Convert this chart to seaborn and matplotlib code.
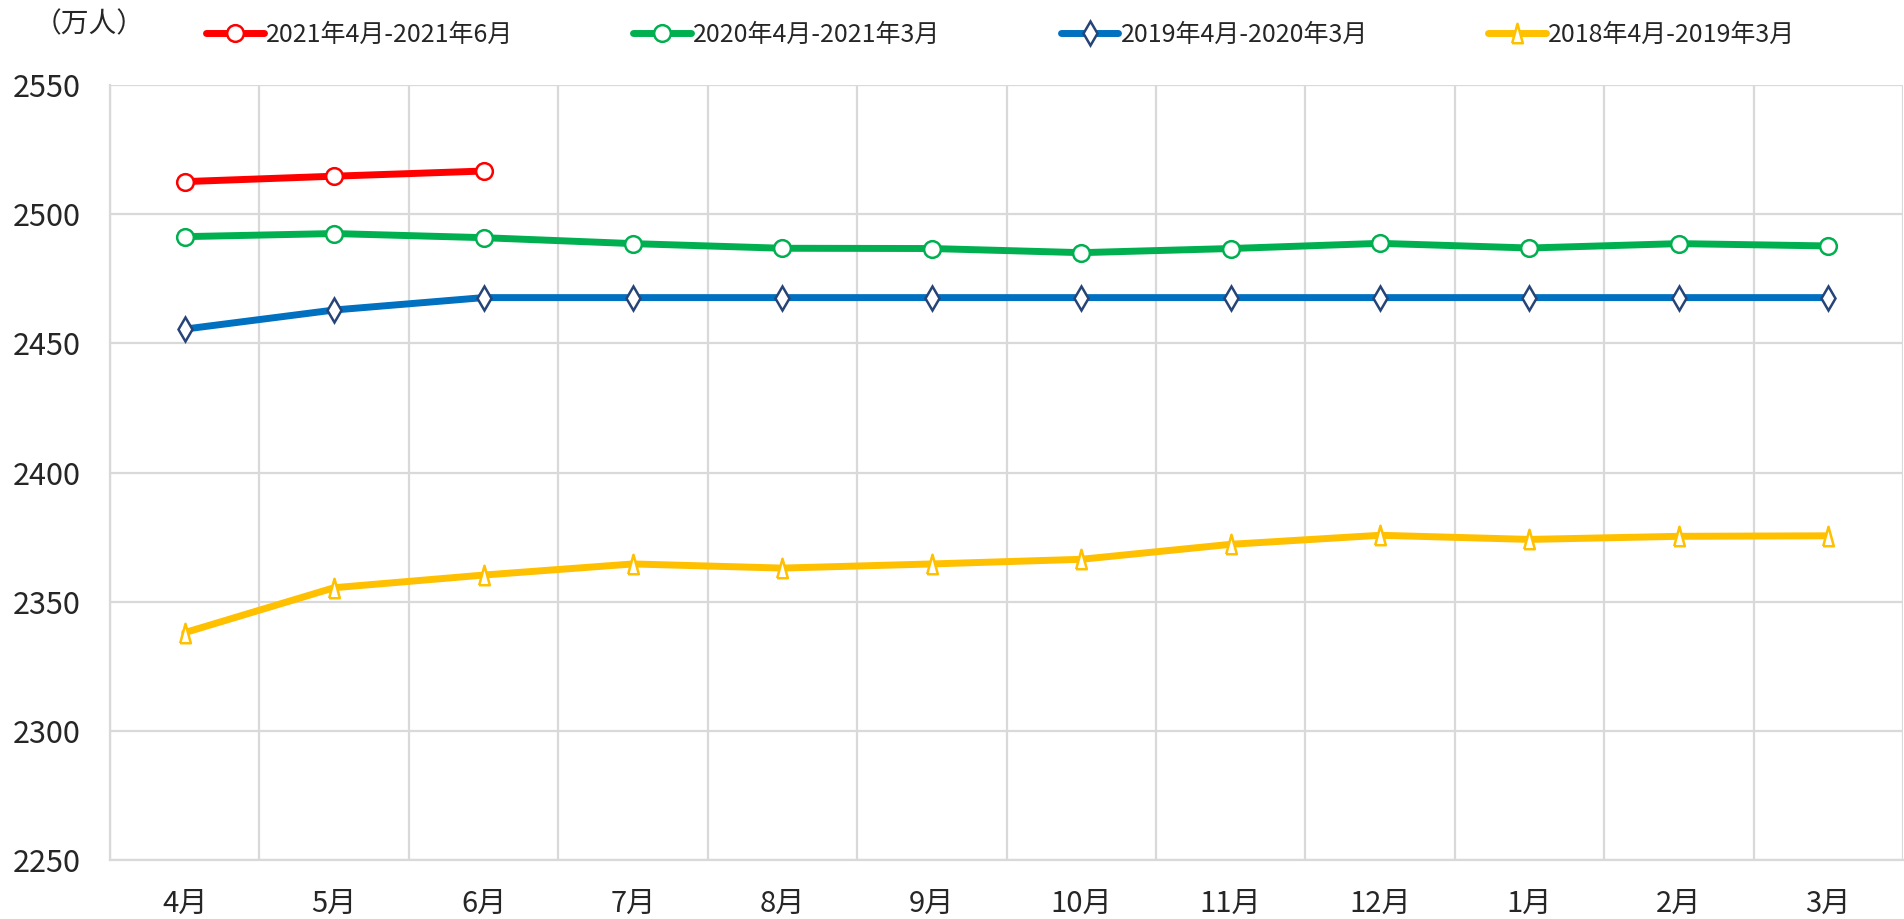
import numpy as np
import matplotlib
matplotlib.use("Agg")
import matplotlib.pyplot as plt
import seaborn as sns

# Données (万人)
months = ["4月", "5月", "6月", "7月", "8月", "9月", "10月", "11月", "12月", "1月", "2月", "3月"]
series_labels = ["2021年4月-2021年6月", "2020年4月-2021年3月", "2019年4月-2020年3月", "2018年4月-2019年3月"]
s2021 = [2512.6, 2514.7, 2516.7]
s2020 = [2491.3, 2492.5, 2490.9, 2488.6, 2486.8, 2486.7, 2485.1, 2486.7, 2488.7, 2486.9, 2488.6, 2487.7]
s2019 = [2455.5, 2462.9, 2467.7, 2467.7, 2467.7, 2467.7, 2467.7, 2467.7, 2467.7, 2467.7, 2467.7, 2467.7]
s2018 = [2338.0, 2355.4, 2360.3, 2364.6, 2363.0, 2364.6, 2366.4, 2372.2, 2375.7, 2374.1, 2375.3, 2375.5]
y_ticks = [2250, 2300, 2350, 2400, 2450, 2500, 2550]

sns.set_theme(style="white")
plt.rcParams['font.family'] = ['Noto Sans CJK SC', 'DejaVu Sans']

fig = plt.figure(figsize=(19.04, 9.19), dpi=100)
ax = fig.add_axes([110 / 1904, 1 - 860 / 919, 1793 / 1904, 775 / 919])

# triangle étroit
tri = [(-0.55, -1.0), (0.55, -1.0), (0.0, 1.0), (-0.55, -1.0)]

styles = [
    dict(color="#FF0000", marker="o", mec="#FF0000", ms=12),
    dict(color="#00B050", marker="o", mec="#00B050", ms=12),
    dict(color="#0070C0", marker="d", mec="#264478", ms=12),
    dict(color="#FFC000", marker=tri, mec="#FFC000", ms=14),
]
data = [s2021, s2020, s2019, s2018]

for vals, lab, st in zip(data, series_labels, styles):
    x = np.arange(len(vals))
    sns.lineplot(x=x, y=vals, ax=ax, color=st["color"], linewidth=5,
                 marker=st["marker"], markersize=st["ms"], markerfacecolor="white",
                 markeredgecolor=st["mec"], markeredgewidth=1.8, label=lab)

ax.set_xlim(-0.5, len(months) - 0.5)
ax.set_ylim(2250, 2550)
ax.set_yticks(y_ticks)
ax.set_xticks(np.arange(len(months)))
ax.set_xticklabels(months)
ax.set_xticks(np.arange(-0.5, len(months)), minor=True)
ax.grid(False)
ax.grid(axis="y", which="major", color="#D9D9D9", linewidth=1.6)
ax.grid(axis="x", which="minor", color="#D9D9D9", linewidth=1.6)
ax.set_axisbelow(True)
for side in ["top", "right"]:
    ax.spines[side].set_visible(False)
for side in ["left", "bottom"]:
    ax.spines[side].set_color("#D9D9D9")
    ax.spines[side].set_linewidth(1.6)
ax.tick_params(axis="both", which="both", length=0)
ax.tick_params(axis="y", labelsize=22, pad=21)
ax.tick_params(axis="x", labelsize=21, pad=21)
ax.set_xlabel("")
ax.set_ylabel("")

fig.text(89 / 1904, 1 - 24 / 919, "（万人）", fontsize=20, ha="center", va="center")

handles, labels = ax.get_legend_handles_labels()
ax.get_legend().remove()
fig.legend(handles, labels, ncol=4, loc="center left",
           bbox_to_anchor=(206 / 1904, 1 - 35 / 919), frameon=False,
           fontsize=18, handlelength=2.3, handletextpad=0.1,
           columnspacing=4.8, borderpad=0, borderaxespad=0)

plt.savefig("out.png", dpi=100)
plt.close()
